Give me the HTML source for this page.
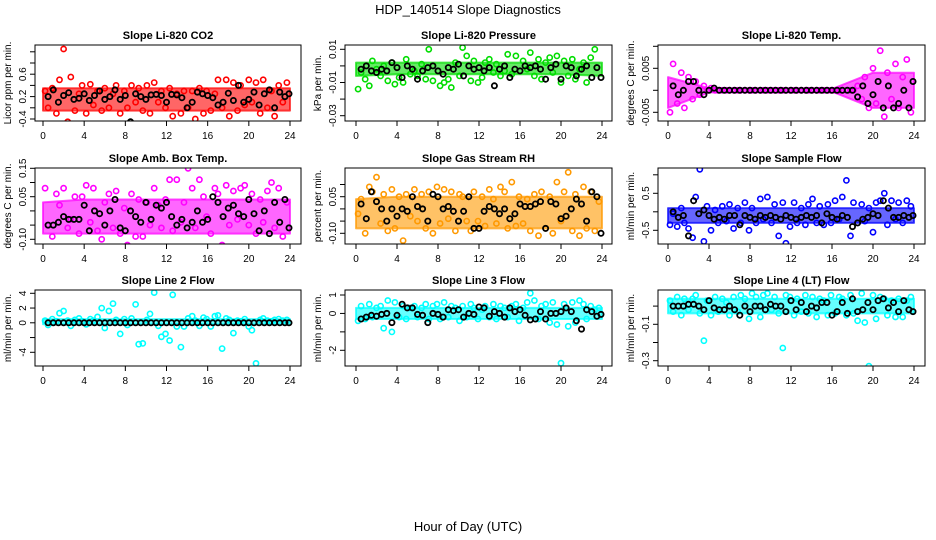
<!DOCTYPE html>
<html><head><meta charset="utf-8"><style>
body{margin:0;background:#fff;}
svg{display:block;font-family:"Liberation Sans",sans-serif;}
</style></head><body>
<svg id="chart" width="936" height="540" viewBox="0 0 936 540">
<text x="468" y="14" text-anchor="middle" font-size="13">HDP_140514  Slope Diagnostics</text>
<text x="468" y="531" text-anchor="middle" font-size="13">Hour of Day (UTC)</text>
</svg>
<script>
const hoursC=[0.2,0.5,0.9,1.3,1.6,2.0,2.4,2.7,3.1,3.5,3.8,4.2,4.6,4.9,5.3,5.7,6.0,6.4,6.8,7.1,7.5,7.9,8.2,8.6,9.0,9.3,9.7,10.1,10.4,10.8,11.2,11.5,11.9,12.3,12.6,13.0,13.4,13.7,14.1,14.5,14.8,15.2,15.6,15.9,16.3,16.7,17.0,17.4,17.8,18.1,18.5,18.9,19.2,19.6,20.0,20.3,20.7,21.1,21.4,21.8,22.2,22.5,22.9,23.3,23.7];
const hoursB=[0.5,1,1.5,2,2.5,3,3.5,4,4.5,5,5.5,6,6.5,7,7.5,8,8.5,9,9.5,10,10.5,11,11.5,12,12.5,13,13.5,14,14.5,15,15.5,16,16.5,17,17.5,18,18.5,19,19.5,20,20.5,21,21.5,22,22.5,23,23.5,23.9];
const bandHours=[0,4,8,12,16,20,24];
const xTicks=[0,4,8,12,16,20,24];

const co2C=[0.1,-0.2,0.15,-0.3,0.3,0.85,-0.45,0.35,-0.25,0.05,0.2,-0.3,0.22,-0.15,0.1,-0.25,0.15,-0.2,0.05,0.2,-0.3,0.1,-0.2,0.2,-0.1,0.15,-0.25,0.2,-0.3,0.25,-0.1,0.1,-0.2,0.15,-0.35,0.05,-0.3,0.1,-0.2,0.1,-0.4,0.15,-0.3,0.1,-0.25,0.05,0.3,-0.2,0.3,-0.35,0.25,-0.25,0.2,-0.15,0.3,-0.1,0.25,-0.3,0.3,-0.2,0.1,-0.35,0.2,-0.1,0.25];
const co2B=[0.0,0.12,-0.1,0.02,0.07,-0.05,-0.03,0.05,-0.07,0.02,0.1,-0.05,0.0,0.12,-0.05,0.02,-0.45,0.05,0.0,-0.05,0.03,0.04,0.02,-0.1,0.04,0.03,-0.02,-0.2,-0.1,0.08,0.05,0.02,-0.02,-0.15,-0.1,0.06,-0.07,0.2,-0.1,-0.05,0.08,-0.15,0.05,0.12,-0.2,0.08,0.0,0.05];
const co2Lo=[-0.25,-0.25,-0.25,-0.25,-0.25,-0.25,-0.25];
const co2Hi=[0.15,0.15,0.15,0.15,0.15,0.15,0.15];

const presC=[-0.014,-0.004,-0.008,-0.012,0.003,-0.002,-0.006,0.0,-0.009,0.002,-0.011,-0.007,-0.01,0.004,-0.005,-0.003,-0.006,0.001,-0.008,0.01,-0.009,-0.035,-0.012,-0.01,-0.008,-0.013,0.002,-0.006,0.011,0.006,-0.009,0.003,-0.01,-0.007,0.002,0.004,-0.004,0.001,-0.006,-0.003,0.007,-0.005,0.006,-0.035,0.003,-0.002,0.008,-0.006,0.004,-0.008,0.002,0.005,-0.004,0.006,-0.01,0.003,-0.006,0.004,-0.008,-0.002,0.002,-0.01,0.005,0.01,-0.036];
const presB=[-0.002,0.0,-0.003,-0.004,-0.002,-0.003,0.002,-0.001,-0.007,0.0,-0.002,-0.008,-0.003,-0.001,0.0,-0.003,-0.005,-0.001,-0.002,0.001,-0.006,0.0,-0.002,-0.001,-0.003,-0.001,-0.012,-0.002,0.0,-0.007,-0.002,-0.003,0.0,-0.001,0.0,-0.002,-0.008,-0.001,0.001,-0.008,0.0,-0.001,-0.006,-0.002,0.0,-0.007,-0.001,-0.007];
const presLo=[-0.006,-0.005,-0.005,-0.005,-0.005,-0.005,-0.006];
const presHi=[0.002,0.002,0.002,0.002,0.002,0.002,0.002];

const tempC=[-0.005,0.006,-0.003,0.004,-0.004,0.003,-0.002,0.002,-0.001,0.001,0.0,0.0005,0,0,0,0,0,0,0,0,0,0,0,0,0,0,0,0,0,0,0,0,0,0,0,0,0,0,0,0,0,0,0,0,0,0,0,0,0,0,0.001,-0.002,0.003,-0.004,0.005,-0.003,0.009,-0.006,0.004,-0.002,0.006,-0.004,0.003,0.007,-0.005];
const tempB=[0.001,-0.001,0.0,0.002,0.002,0.0,-0.001,0.0,0.0005,0,0,0,0,0,0,0,0,0,0,0,0,0,0,0,0,0,0,0,0,0,0,0,0,0,0,0,-0.0015,0.001,-0.003,-0.001,0.002,-0.004,0.001,-0.004,-0.003,0.0,-0.004,0.002];
const tempLo=[-0.004,-0.0005,-0.0003,-0.0003,-0.0003,-0.004,-0.004];
const tempHi=[0.003,0.0005,0.0003,0.0003,0.0003,0.004,0.004];

const ambC=[0.08,-0.05,-0.09,0.06,0.02,0.08,-0.06,-0.03,0.05,-0.08,0.05,0.09,-0.04,0.08,-0.07,-0.1,0.03,0.06,-0.06,0.07,-0.08,0.01,-0.12,0.06,-0.09,0.04,-0.09,0.03,-0.05,0.08,0.02,-0.06,0.04,0.11,-0.07,0.11,-0.04,0.03,0.15,0.08,-0.06,0.11,0.05,-0.02,-0.08,0.08,0.06,-0.12,0.09,-0.05,0.07,-0.03,0.08,0.09,-0.05,0.06,-0.08,0.04,-0.04,0.07,0.1,-0.06,0.08,-0.09,0.03];
const ambB=[-0.05,-0.05,-0.04,-0.02,-0.03,-0.03,-0.03,0.02,-0.07,0.0,-0.01,-0.05,0.0,0.04,-0.06,-0.07,0.0,-0.02,-0.04,0.03,-0.03,0.02,0.01,0.03,-0.02,-0.05,-0.03,-0.06,-0.04,0.0,-0.04,-0.03,0.05,0.03,-0.02,0.01,0.02,-0.01,-0.02,0.04,-0.01,-0.07,0.0,-0.08,0.03,-0.04,0.04,-0.06];
const ambLo=[-0.08,-0.08,-0.08,-0.08,-0.08,-0.08,-0.08];
const ambHi=[0.03,0.04,0.04,0.04,0.04,0.04,0.04];

const rhC=[-0.02,0.04,-0.1,0.09,0.07,0.13,-0.06,0.06,-0.09,0.08,-0.08,0.05,-0.13,0.06,-0.03,0.08,-0.05,0.06,-0.08,0.07,-0.1,0.09,-0.06,0.08,-0.04,0.07,-0.09,0.06,0.05,-0.05,-0.09,0.07,-0.05,0.05,-0.07,0.08,0.04,-0.06,0.09,0.07,-0.08,0.11,-0.07,0.05,-0.06,0.04,-0.09,0.06,-0.11,0.07,-0.08,0.05,-0.1,0.11,-0.05,0.07,0.15,-0.09,0.06,-0.11,0.09,-0.08,0.07,-0.09,0.03];
const rhB=[0.02,-0.04,0.07,0.03,0.0,-0.05,0.0,-0.03,0.0,-0.01,0.05,0.01,0.0,-0.05,0.06,0.05,0.0,0.01,-0.01,-0.05,-0.01,0.05,-0.08,-0.08,-0.01,0.01,0.0,-0.02,0.0,-0.04,-0.02,0.02,0.01,0.01,0.02,0.03,-0.08,0.03,0.02,-0.04,-0.03,0.0,0.04,0.02,-0.05,0.07,0.05,-0.1];
const rhLo=[-0.08,-0.08,-0.08,-0.08,-0.08,-0.08,-0.08];
const rhHi=[0.04,0.05,0.05,0.05,0.05,0.05,0.05];

const sfC=[-0.35,-0.05,-0.4,0.1,-0.3,-0.45,-0.7,0.4,1.15,-0.8,0.15,-0.5,0.05,-0.3,0.15,-0.25,0.2,-0.45,0.1,-0.3,0.25,-0.5,0.1,-0.3,0.35,-0.2,0.4,-0.3,0.2,-0.65,0.25,-0.85,-0.4,0.25,-0.3,0.1,-0.35,0.2,0.35,-0.3,0.15,-0.35,0.2,-0.3,0.3,-0.2,0.4,0.85,-0.65,0.25,-0.3,0.2,-0.25,0.1,-0.55,0.25,0.3,0.5,-0.35,0.3,-0.2,0.25,-0.3,0.3,0.15];
const sfB=[0.0,-0.15,-0.1,-0.65,0.3,-0.05,0.05,-0.1,-0.2,-0.15,-0.2,-0.1,-0.1,-0.35,-0.1,-0.15,-0.2,-0.1,-0.15,-0.1,-0.15,-0.2,-0.1,-0.15,-0.2,-0.15,-0.1,-0.15,-0.1,-0.3,-0.05,-0.15,-0.2,-0.1,-0.15,-0.4,-0.3,-0.2,-0.15,-0.05,-0.1,0.3,0.1,-0.15,-0.15,-0.1,-0.15,-0.1];
const sfLo=[-0.3,-0.3,-0.3,-0.3,-0.3,-0.3,-0.3];
const sfHi=[0.1,0.1,0.1,0.1,0.1,0.1,0.1];

const l2C=[0.3,-0.3,0.5,0.2,1.3,1.6,0.3,-0.4,0.4,0.6,0.2,-0.2,0.5,0.3,0.8,2.0,-0.7,1.6,2.6,0.4,-1.5,0.5,-0.3,0.6,2.5,-2.9,-2.8,0.4,1.2,4.1,-0.4,-1.9,-1.5,-2.4,3.8,-0.5,-3.3,-0.5,0.6,0.9,0.3,-0.4,0.7,0.5,-0.5,0.9,1.0,-3.5,0.6,0.4,-1.4,0.3,0.2,0.5,-0.5,-1.0,-5.5,0.4,0.6,0.3,0.2,0.4,0.5,0.3,0.4];
const l2B=[0,0,0,0,0,0,0,0,0,0,0,0,0,0,0,0,0,0,0,0,0,0,0,0,0,0,0,0,0,0,0,0,0,0,0,0,0,0,0,0,0,0,0,0,0,0,0,0];
const l2Lo=[-0.2,-0.2,-0.2,-0.2,-0.2,-0.2,-0.2];
const l2Hi=[0.5,0.5,0.5,0.5,0.5,0.5,0.5];

const l3C=[-0.4,0.4,-0.3,0.5,-0.2,0.3,0.4,-0.8,0.7,-1.0,0.6,-0.2,0.4,-0.3,0.3,0.4,-0.2,0.3,0.5,-0.3,0.4,0.5,-0.3,0.6,-0.2,0.4,0.3,-0.4,0.4,-0.2,0.5,0.3,-0.3,0.2,0.4,-0.2,0.5,-0.3,0.4,0.3,-0.2,0.4,0.5,-0.4,0.3,0.6,1.1,0.7,-0.3,0.4,0.5,-0.5,0.6,-0.6,-2.7,0.5,-0.7,0.6,-0.5,0.7,0.5,-0.3,0.4,0.2,0.3];
const l3B=[-0.3,-0.2,-0.1,-0.15,-0.05,0.0,-0.5,-0.1,0.5,0.3,0.3,-0.05,-0.1,-0.5,0.0,-0.05,-0.2,0.2,0.15,0.2,-0.2,0.0,-0.05,0.35,0.3,-0.15,0.1,0.0,-0.2,0.3,0.1,0.2,-0.1,-0.35,-0.3,0.1,-0.3,0.0,0.0,0.1,0.3,0.1,-0.4,-0.85,0.2,0.1,-0.15,-0.05];
const l3Lo=[-0.3,-0.3,-0.3,-0.3,-0.3,-0.3,-0.3];
const l3Hi=[0.3,0.3,0.3,0.3,0.3,0.3,0.3];

const l4C=[0.03,-0.03,0.05,-0.05,0.04,-0.02,0.04,0.06,-0.04,-0.19,0.03,-0.05,0.05,-0.03,0.04,0.02,-0.05,0.05,-0.03,0.06,0.04,-0.07,0.07,0.05,-0.06,0.06,0.07,-0.02,0.05,-0.04,-0.23,0.06,0.05,-0.05,0.04,-0.03,0.06,-0.04,0.05,-0.06,0.04,0.03,-0.05,0.06,-0.04,0.05,0.04,-0.05,0.06,-0.04,-0.08,0.07,-0.09,-0.33,0.06,-0.07,0.05,0.04,-0.05,0.03,-0.06,0.04,-0.06,0.03,0.05];
const l4B=[0.0,0.0,0.0,0.01,0.01,0.0,-0.02,0.03,-0.01,-0.02,-0.02,0.0,-0.02,-0.05,0.0,-0.03,0.0,0.0,-0.02,0.01,0.0,0.0,-0.03,0.03,-0.02,0.02,-0.03,0.0,-0.01,0.02,0.02,-0.05,-0.03,0.02,-0.04,0.04,-0.03,-0.02,0.02,-0.02,0.03,0.04,-0.01,0.02,-0.03,0.03,-0.02,-0.03];
const l4Lo=[-0.04,-0.04,-0.04,-0.04,-0.04,-0.04,-0.04];
const l4Hi=[0.04,0.04,0.04,0.04,0.04,0.04,0.04];

const panels=[
 {name:'co2',title:'Slope Li-820 CO2',yl:'Licor ppm per min.',col:0,row:0,color:'#ff0000',c:co2C,b:co2B,lo:co2Lo,hi:co2Hi,v0:-0.4,p0:119,v1:0.6,p1:63,ticks:[-0.4,-0.2,0,0.2,0.4,0.6,0.8],labels:['-0.4','','0.2','','0.6','','']},
 {name:'pressure',title:'Slope Li-820 Pressure',yl:'kPa per min.',col:1,row:0,color:'#00dd00',c:presC,b:presB,lo:presLo,hi:presHi,v0:-0.03,p0:115.7,v1:0.01,p1:49.3,ticks:[-0.03,-0.02,-0.01,0,0.01],labels:['-0.03','','-0.01','','0.01']},
 {name:'temp',title:'Slope Li-820 Temp.',yl:'degrees C per min.',col:2,row:0,color:'#ff00ff',c:tempC,b:tempB,lo:tempLo,hi:tempHi,v0:-0.005,p0:112.3,v1:0.005,p1:68.3,ticks:[-0.005,0,0.005,0.01],labels:['-0.005','','0.005','']},
 {name:'amb-box-temp',title:'Slope Amb. Box Temp.',yl:'degrees C per min.',col:0,row:1,color:'#ff00ff',c:ambC,b:ambB,lo:ambLo,hi:ambHi,v0:-0.1,p0:239.3,v1:0.15,p1:168.3,ticks:[-0.1,-0.05,0,0.05,0.1,0.15],labels:['-0.10','','','0.05','','0.15']},
 {name:'gas-stream-rh',title:'Slope Gas Stream RH',yl:'percent per min.',col:1,row:1,color:'#ff9900',c:rhC,b:rhB,lo:rhLo,hi:rhHi,v0:-0.1,p0:233.3,v1:0.05,p1:196.7,ticks:[-0.1,-0.05,0,0.05,0.1],labels:['-0.10','','','0.05','']},
 {name:'sample-flow',title:'Slope Sample Flow',yl:'ml/min per min.',col:2,row:1,color:'#0000ff',c:sfC,b:sfB,lo:sfLo,hi:sfHi,v0:-0.5,p0:230.3,v1:0.5,p1:193.3,ticks:[-0.5,0,0.5,1],labels:['-0.5','','0.5','']},
 {name:'line2-flow',title:'Slope Line 2 Flow',yl:'ml/min per min.',col:0,row:2,color:'#00ffff',c:l2C,b:l2B,lo:l2Lo,hi:l2Hi,v0:-4,p0:352.3,v1:4,p1:293.3,ticks:[-4,-2,0,2,4],labels:['-4','','0','2','4']},
 {name:'line3-flow',title:'Slope Line 3 Flow',yl:'ml/min per min.',col:1,row:2,color:'#00ffff',c:l3C,b:l3B,lo:l3Lo,hi:l3Hi,v0:-2,p0:350.3,v1:1,p1:295,ticks:[-2,-1,0,1],labels:['-2','','0','1']},
 {name:'line4-flow',title:'Slope Line 4 (LT) Flow',yl:'ml/min per min.',col:2,row:2,color:'#00ffff',c:l4C,b:l4B,lo:l4Lo,hi:l4Hi,v0:-0.3,p0:360.7,v1:-0.1,p1:324.3,ticks:[-0.3,-0.2,-0.1,0],labels:['-0.3','','-0.1','']}
];
const colX=[[35,301,43,290],[345,612,356,602],[658,925,668,914]];
const rowY=[[45,121],[168,244],[290,366]];
const NS='http://www.w3.org/2000/svg';
const svg=document.getElementById('chart');
function mk(tag,attrs,parent){const e=document.createElementNS(NS,tag);for(const k in attrs)e.setAttribute(k,attrs[k]);(parent||svg).appendChild(e);return e;}
panels.forEach(p=>{
  const [bx0,bx1,h0,h24]=colX[p.col];const [by0,by1]=rowY[p.row];
  const xs=h=>h0+(h24-h0)*h/24;
  const ys=v=>p.p0+(v-p.v0)*(p.p1-p.p0)/(p.v1-p.v0);
  const g=mk('g',{});
  
  
  const clip=mk('clipPath',{id:'clip-'+p.name},g);
  mk('rect',{x:bx0,y:by0,width:bx1-bx0,height:by1-by0},clip);
  const t=mk('text',{x:(bx0+bx1)/2,y:by0-6,'text-anchor':'middle','font-size':11,'font-weight':'bold'},g);
  t.textContent=p.title;
  
  
  const plot=mk('g',{'clip-path':'url(#clip-'+p.name+')'},g);
  let d='';
  bandHours.forEach((h,i)=>{d+=(i?'L':'M')+xs(h).toFixed(1)+','+ys(p.hi[i]).toFixed(1);});
  for(let i=bandHours.length-1;i>=0;i--)d+='L'+xs(bandHours[i]).toFixed(1)+','+ys(p.lo[i]).toFixed(1);
  const band=mk('path',{d:d+'Z',fill:p.color,'fill-opacity':0.6,stroke:p.color,'stroke-opacity':0.7,'stroke-width':2,'stroke-linejoin':'round'},plot);
  
  
  const n=Math.min(p.c.length,hoursC.length);
  for(let i=0;i<n;i++){
    const c=mk('circle',{cx:xs(hoursC[i]).toFixed(1),cy:ys(p.c[i]).toFixed(1),r:2.6,fill:'none',stroke:p.color,'stroke-width':1.6},plot);
    
    
  }
  const m=Math.min(p.b.length,hoursB.length);
  for(let i=0;i<m;i++){
    const c=mk('circle',{cx:xs(hoursB[i]).toFixed(1),cy:ys(p.b[i]).toFixed(1),r:2.6,fill:'none',stroke:'#000','stroke-width':1.8},plot);
    
    
  }
  const box=mk('rect',{x:bx0,y:by0,width:bx1-bx0,height:by1-by0,fill:'none',stroke:'#000','stroke-width':1},g);
  
  
  mk('line',{x1:xs(0),x2:xs(24),y1:by1,y2:by1,stroke:'#000'},g);
  xTicks.forEach(h=>{
    mk('line',{x1:xs(h),x2:xs(h),y1:by1,y2:by1+5,stroke:'#000'},g);
    const tl=mk('text',{x:xs(h),y:by1+18,'text-anchor':'middle','font-size':10},g);
    tl.textContent=h;
    
    
  });
  p.ticks.forEach((v,i)=>{
    const y=ys(v);
    mk('line',{x1:bx0-5,x2:bx0,y1:y,y2:y,stroke:'#000'},g);
    if(p.labels[i]){
      const tl=mk('text',{x:bx0-9,y:y,'text-anchor':'middle','font-size':10,transform:`rotate(-90 ${bx0-9} ${y})`},g);
      tl.textContent=p.labels[i];
      
      
    }
  });
  const yl=mk('text',{x:bx0-24,y:(by0+by1)/2,'text-anchor':'middle','font-size':10,transform:`rotate(-90 ${bx0-24} ${(by0+by1)/2})`},g);
  yl.textContent=p.yl;
  
  
});
</script>
</body></html>
